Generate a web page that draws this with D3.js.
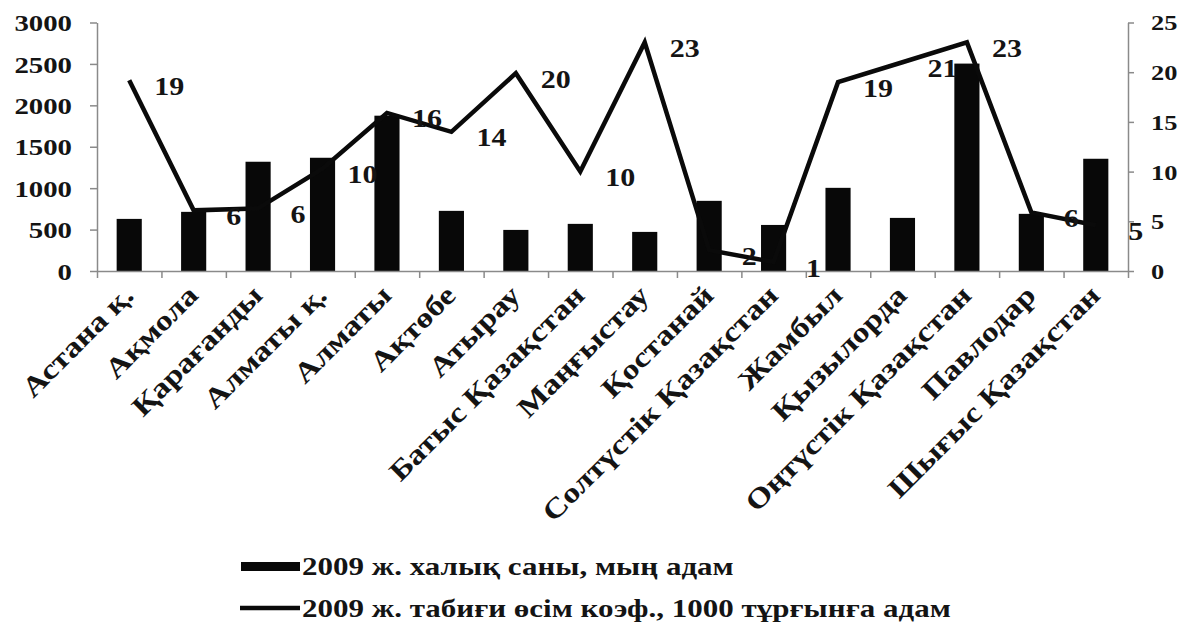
<!DOCTYPE html>
<html>
<head>
<meta charset="utf-8">
<script src="https://cdn.jsdelivr.net/npm/d3@7/dist/d3.min.js"></script>
<style>
  html, body { margin: 0; padding: 0; background: #fff; }
  svg { display: block; }
  text { font-family: "Liberation Serif", "Times New Roman", serif; font-weight: bold; fill: #141414; }
</style>
</head>
<body>
<svg id="chart" width="1186" height="633"></svg>
<script>
// ---- data ----
const categories = ["Астана қ.", "Ақмола", "Қарағанды", "Алматы қ.", "Алматы", "Ақтөбе", "Атырау",
  "Батыс Қазақстан", "Маңғыстау", "Қостанай", "Солтүстік Қазақстан", "Жамбыл", "Қызылорда",
  "Оңтүстік Қазақстан", "Павлодар", "Шығыс Қазақстан"];
const population = [629, 714, 1319, 1367, 1875, 726, 496, 569, 472, 847, 556, 1004, 641, 2504, 690, 1355];
const growthRate = [19.2, 6.1, 6.3, 10.3, 15.9, 14.0, 19.9, 10.0, 23.0, 2.1, 0.9, 19.0, 21.0, 23.0, 5.9, 4.6];
const leftTicks = [0, 500, 1000, 1500, 2000, 2500, 3000];
const rightTicks = [0, 5, 10, 15, 20, 25];
const legendLabels = ["2009 ж. халық саны, мың адам", "2009 ж. табиғи өсім коэф., 1000 тұрғынға адам"];

// ---- layout ----
const svg = d3.select("#chart");
const plotL = 97, plotR = 1128, plotB = 271, plotT = 22.5;
const stretch = 1.2; // the scanned serif type is horizontally wide

const x = d3.scaleBand().domain(categories).range([plotL, plotR]).paddingInner(0).paddingOuter(0);
const xEdge = d3.scaleLinear().domain([0, categories.length]).range([plotL, plotR]);
const yL = d3.scaleLinear().domain([0, 3000]).range([plotB, plotT]);
const yR = d3.scaleLinear().domain([0, 25]).range([plotB, plotT]);
const barW = x.bandwidth() * 0.39;
const axisColor = "#8a8a8a";

// bars
svg.append("g").selectAll("rect").data(categories).join("rect")
  .attr("x", (d) => x(d) + x.bandwidth() / 2 - barW / 2)
  .attr("width", barW)
  .attr("y", (d, i) => yL(population[i]))
  .attr("height", (d, i) => yL(0) - yL(population[i]))
  .attr("fill", "#080808");

// line
const pts = categories.map((c, i) => [x(c) + x.bandwidth() / 2, yR(growthRate[i])]);
svg.append("path").datum(pts)
  .attr("d", d3.line())
  .attr("fill", "none").attr("stroke", "#0a0a0a").attr("stroke-width", 4.5)
  .attr("stroke-linejoin", "miter");

// left axis
const gL = svg.append("g").attr("transform", `translate(${plotL},0)`)
  .call(d3.axisLeft(yL).tickValues(leftTicks).tickFormat(d3.format("d")).tickSize(7).tickSizeOuter(0));
gL.select(".domain").attr("stroke", axisColor).attr("stroke-width", 1.5);
gL.selectAll(".tick line").attr("stroke", axisColor).attr("stroke-width", 1.5);
gL.selectAll(".tick text").attr("x", 0).attr("dy", "0.34em")
  .attr("transform", `translate(-25,0) scale(${stretch},1)`)
  .attr("text-anchor", "end").style("font-size", "24px").style("font-family", "Liberation Serif");

// right axis
const gR = svg.append("g").attr("transform", `translate(${plotR},0)`)
  .call(d3.axisRight(yR).tickValues(rightTicks).tickFormat(d3.format("d")).tickSize(6).tickSizeOuter(0));
gR.select(".domain").attr("stroke", axisColor).attr("stroke-width", 1.5);
gR.selectAll(".tick line").attr("stroke", axisColor).attr("stroke-width", 1.5);
gR.selectAll(".tick text").attr("x", 0).attr("dy", "0.34em")
  .attr("transform", `translate(23,0) scale(${stretch},1)`)
  .attr("text-anchor", "start").style("font-size", "22px").style("font-family", "Liberation Serif");

// bottom axis: boundary ticks
const gB = svg.append("g").attr("transform", `translate(0,${plotB})`)
  .call(d3.axisBottom(xEdge).tickValues(d3.range(categories.length + 1)).tickSize(7).tickSizeOuter(0).tickFormat(""));
gB.select(".domain").attr("stroke", axisColor).attr("stroke-width", 1.5);
gB.selectAll(".tick line").attr("stroke", axisColor).attr("stroke-width", 1.5);

// category labels
const gC = svg.append("g").attr("transform", `translate(0,${plotB})`)
  .call(d3.axisBottom(x).tickSize(0).tickSizeOuter(0));
gC.select(".domain").remove();
gC.selectAll(".tick text")
  .attr("x", 0).attr("y", 0).attr("dy", 0)
  .attr("transform", `translate(6,26) rotate(-45) scale(${stretch},1)`)
  .attr("text-anchor", "end").style("font-size", "28px").style("font-family", "Liberation Serif");

// data labels for the line
const fmt = d3.format(".0f");
svg.append("g").selectAll("g").data(pts).join("g")
  .attr("transform", (d) => `translate(${d[0] + 40},${d[1] + 6}) scale(${stretch},1)`)
  .append("text")
  .attr("text-anchor", "middle").attr("dy", "0.34em")
  .style("font-size", "25px")
  .text((d, i) => fmt(growthRate[i]));

// legend
const lg = svg.append("g");
lg.append("rect").attr("x", 241).attr("y", 562).attr("width", 59).attr("height", 9).attr("fill", "#080808");
lg.append("line").attr("x1", 240).attr("x2", 300).attr("y1", 608).attr("y2", 608)
  .attr("stroke", "#0a0a0a").attr("stroke-width", 4.5);
lg.selectAll("g.lt").data(legendLabels).join("g").attr("class", "lt")
  .attr("transform", (d, i) => `translate(302,${566 + i * 42}) scale(1.24,1)`)
  .append("text").attr("dy", "0.34em").style("font-size", "25px").text((d) => d);
</script>
</body>
</html>
